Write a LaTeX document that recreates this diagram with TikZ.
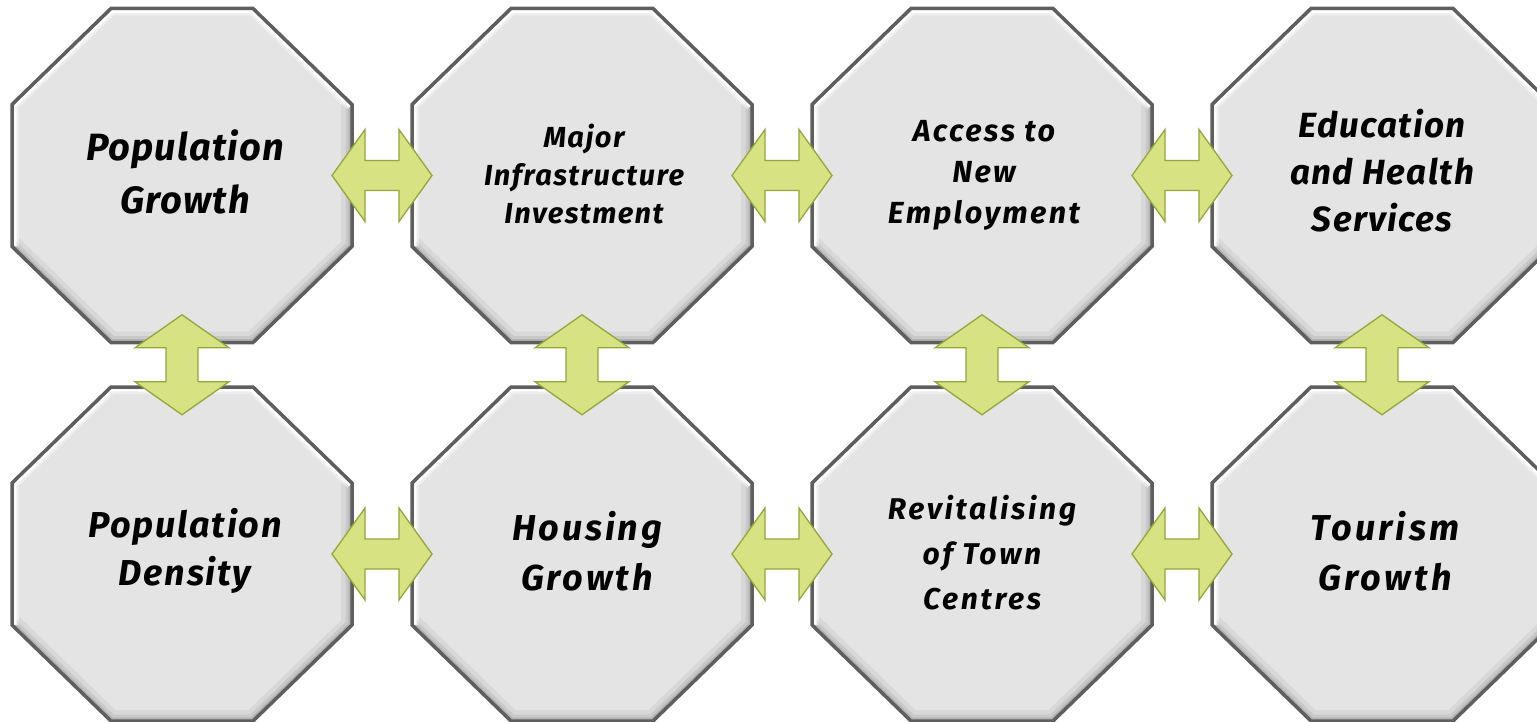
\documentclass[tikz,border=0pt]{standalone}
\usepackage{fontspec}
\setmainfont{Fira Sans}
\usetikzlibrary{calc}

\definecolor{octfill}{HTML}{E4E4E4}
\definecolor{octline}{HTML}{5E5E5E}
\definecolor{arrfill}{HTML}{D7E283}
\definecolor{arrline}{HTML}{93A73B}

\tikzset{
  octborder/.style={draw=octline, line width=3.5pt, line join=miter},
  blockarrow/.style={fill=arrfill, draw=arrline, line width=1.3pt, line join=miter},
  octlabel/.style n args={3}{align=center, text=black, inner sep=0pt,
    font=\bfseries\itshape\fontsize{#1pt}{#2pt}\selectfont\addfontfeature{LetterSpace=#3}},
}

% octagon outline around the current origin
\newcommand\octpath{(-71,-167) -- (71,-167) -- (170,-71) -- (170,71) -- (71,167) -- (-71,167) -- (-170,71) -- (-170,-71) -- cycle}

% bevelled grey octagon centred on a named coordinate
\newcommand\octo[1]{%
  \begin{scope}[shift={(#1)}]
    \fill[octfill] \octpath;
    \begin{scope}
      \clip \octpath;
      % soft shading along the lower and right edges
      \draw[black, opacity=.05, line width=22pt] (170,-71) -- (170,71) -- (71,167) -- (-71,167) -- (-170,71);
      \draw[black, opacity=.07, line width=13pt] (170,-71) -- (170,71) -- (71,167) -- (-71,167) -- (-170,71);
      \draw[black, opacity=.10, line width=7pt] (170,-71) -- (170,71) -- (71,167) -- (-71,167) -- (-170,71);
      % light rim along the upper and left edges
      \draw[white, opacity=.9, line width=9pt] (-170,71) -- (-170,-71) -- (-71,-167) -- (71,-167) -- (170,-71);
      \draw[white, opacity=.4, line width=14pt] (-170,71) -- (-170,-71) -- (-71,-167) -- (71,-167) -- (170,-71);
    \end{scope}
    \draw[octborder] \octpath;
  \end{scope}}

% double-headed block arrows centred on a named coordinate
\newcommand\harrow[1]{%
  \draw[blockarrow, shift={(#1)}] (-50,0) -- (-17,-46) -- (-17,-15) -- (17,-15) -- (17,-46) -- (50,0)
    -- (17,46) -- (17,15) -- (-17,15) -- (-17,46) -- cycle;}
\newcommand\varrow[1]{%
  \draw[blockarrow, shift={(#1)}] (0,-50) -- (-47,-17) -- (-16,-17) -- (-16,17) -- (-47,17) -- (0,50)
    -- (47,17) -- (16,17) -- (16,-17) -- (47,-17) -- cycle;}

\begin{document}
\begin{tikzpicture}[x=1pt, y=-1pt]
  \useasboundingbox (0,0) rectangle (1537,722);
  \clip (0,0) rectangle (1537,722);

  % centres of the eight octagons
  \coordinate (c1) at (182,175.5);
  \coordinate (c2) at (582,175.5);
  \coordinate (c3) at (982,175.5);
  \coordinate (c4) at (1382,175.5);
  \coordinate (c5) at (182,554);
  \coordinate (c6) at (582,554);
  \coordinate (c7) at (982,554);
  \coordinate (c8) at (1382,554);

  \foreach \c in {c1,c2,c3,c4,c5,c6,c7,c8} {\octo{\c}}

  \node[octlabel={38}{53}{3}] (popgrowth) at ($(c1)+(3,-4)$) {Population\\Growth};
  \node[octlabel={29}{38}{5}] (infra)     at ($(c2)+(2,-1)$) {Major\\Infrastructure\\Investment};
  \node[octlabel={30.5}{41}{8}] (employ)  at ($(c3)+(2,0)$) {Access to\\New\\Employment};
  \node[octlabel={35}{47}{4}] (services)  at ($(c4)+(0,-5)$) {Education\\and Health\\Services};
  \node[octlabel={36}{48}{5}] (popdens)   at ($(c5)+(3,-3)$) {Population\\Density};
  \node[octlabel={36}{50}{8}] (housing)   at ($(c6)+(5,-3)$) {Housing\\Growth};
  \node[octlabel={30}{45}{9}] (towns)     at ($(c7)+(0,-1)$) {Revitalising\\of Town\\Centres};
  \node[octlabel={36}{50}{9}] (tourism)   at ($(c8)+(3,-3)$) {Tourism\\Growth};

  % connectors between neighbouring octagons
  \coordinate (h12) at ($(c1)!0.5!(c2)$);
  \coordinate (h23) at ($(c2)!0.5!(c3)$);
  \coordinate (h34) at ($(c3)!0.5!(c4)$);
  \coordinate (h56) at ($(c5)!0.5!(c6)$);
  \coordinate (h67) at ($(c6)!0.5!(c7)$);
  \coordinate (h78) at ($(c7)!0.5!(c8)$);
  \coordinate (v15) at ($(c1)!0.5!(c5)$);
  \coordinate (v26) at ($(c2)!0.5!(c6)$);
  \coordinate (v37) at ($(c3)!0.5!(c7)$);
  \coordinate (v48) at ($(c4)!0.5!(c8)$);

  \foreach \a in {h12,h23,h34,h56,h67,h78} {\harrow{\a}}
  \foreach \a in {v15,v26,v37,v48} {\varrow{\a}}
\end{tikzpicture}
\end{document}
